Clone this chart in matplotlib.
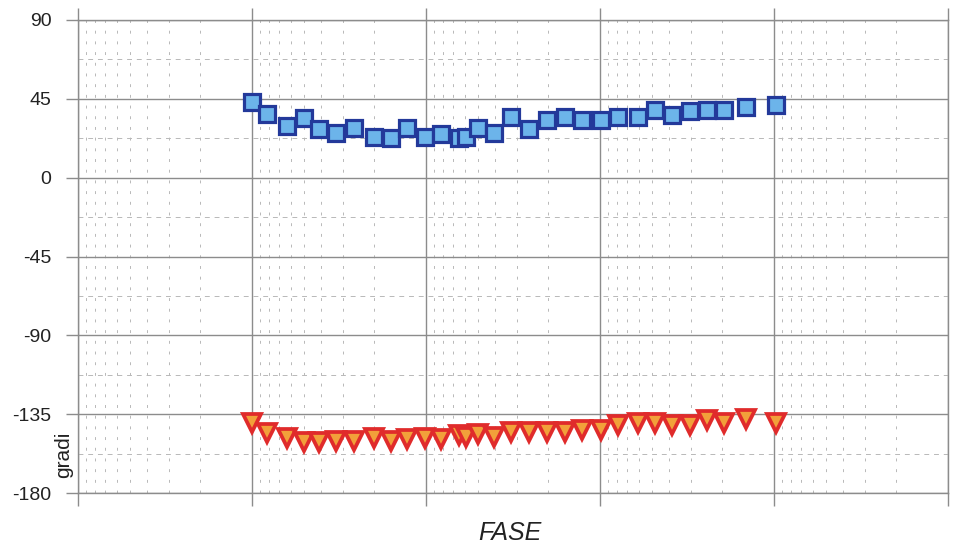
import matplotlib
matplotlib.use("Agg")
import matplotlib.pyplot as plt
from matplotlib.ticker import LogLocator, MultipleLocator, NullFormatter

plt.rcParams['font.family'] = ['Liberation Sans', 'DejaVu Sans']
plt.rcParams['axes.unicode_minus'] = False

# frequencies (Hz) (axis runs high -> low)
freq = [10000, 8200, 6300, 5000, 4100, 3270, 2580, 2000, 1590, 1280,
        1020, 820, 650, 590, 505, 405, 323, 257, 202, 159,
        127, 99, 79, 60.5, 48.3, 38.6, 30.4, 24.3, 19.4, 14.5, 9.8]

# phase of the two series (degrees)
fase_a = [43.2, 36.3, 29.5, 34.1, 27.8, 25.5, 28.3, 23.2, 22.6, 28.3,
          23.2, 24.9, 22.6, 23.2, 28.3, 25.5, 34.6, 27.8, 32.9, 34.6,
          32.9, 32.9, 34.6, 34.6, 38.6, 35.8, 38.0, 38.6, 38.6, 40.3, 41.5]
fase_b = [-140.1, -145.8, -148.6, -150.9, -150.9, -150.3, -150.3, -148.6, -150.3, -148.9,
          -148.6, -149.2, -146.9, -148.1, -146.4, -148.1, -145.2, -145.2, -145.2, -145.2,
          -144.1, -144.1, -141.2, -140.1, -140.1, -141.2, -141.2, -138.4, -140.1, -137.8, -140.1]

yticks = [-180, -135, -90, -45, 0, 45, 90]

fig = plt.figure(figsize=(9.6, 5.46), dpi=100)
ax = fig.add_axes([78 / 960, 1 - 493 / 546, 870 / 960, 473 / 546])

ax.set_xscale('log')
ax.set_xlim(1e5, 1)
ax.set_ylim(-180, 90)
ax.set_yticks(yticks)
ax.yaxis.set_minor_locator(MultipleLocator(22.5))
ax.xaxis.set_major_locator(LogLocator(base=10, numticks=10))
ax.xaxis.set_minor_locator(LogLocator(base=10, subs=range(2, 10), numticks=20))
ax.xaxis.set_major_formatter(NullFormatter())
ax.xaxis.set_minor_formatter(NullFormatter())

ax.grid(which='major', color='#8c8c8c', lw=1.0)
ax.grid(which='minor', axis='x', color='#b8b8b8', lw=0.7, ls=(0, (3, 8)))
ax.grid(which='minor', axis='y', color='#b8b8b8', lw=0.7, ls=(0, (5, 5)))
ax.set_axisbelow(True)

for s in ax.spines.values():
    s.set_color('#8c8c8c')
    s.set_linewidth(1.0)

ax.tick_params(axis='x', which='major', direction='out', length=9, width=1,
               color='#8c8c8c', top=True, bottom=True)
ax.tick_params(axis='x', which='minor', length=0)
ax.tick_params(axis='y', which='major', direction='out', length=9, width=1,
               color='#8c8c8c', labelsize=14, pad=10, labelcolor='#222222')
ax.tick_params(axis='y', which='minor', length=0)

ax.plot(freq, fase_a, ls='none', marker='s', ms=11.5, mfc='#6cb4ea',
        mec='#23399a', mew=2.3, zorder=3)
ax.plot(freq, fase_b, ls='none', marker='v', ms=13, mfc='#f2a03a',
        mec='#e02b2b', mew=2.7, zorder=3)

fig.text(64 / 960, 1 - 455 / 546, 'gradi', rotation=90, fontsize=15,
         ha='center', va='center', color='#222222')
fig.text(510 / 960, 1 - 533 / 546, 'FASE', fontsize=18, style='italic',
         ha='center', va='center', color='#222222')

fig.savefig('out.png', dpi=100)
